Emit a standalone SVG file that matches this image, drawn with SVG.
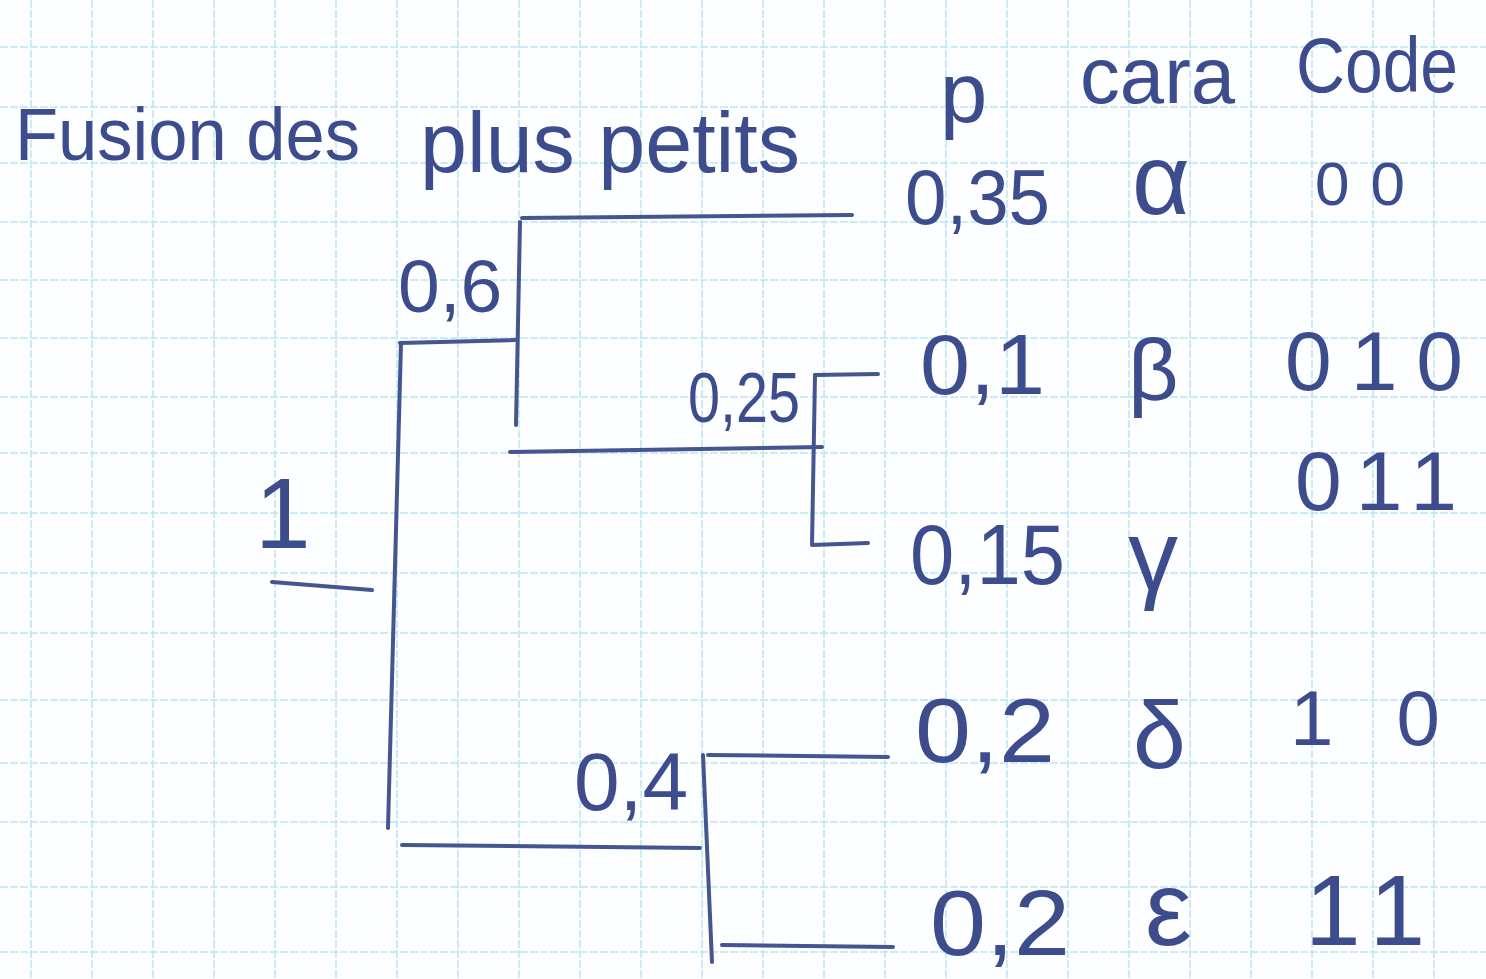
<svg xmlns="http://www.w3.org/2000/svg" width="1486" height="979" viewBox="0 0 1486 979">
<style>
.grid{stroke:#bde3f2;stroke-width:1.5;fill:none;stroke-dasharray:8 2}
.ink{fill:#3c4c8c;font-family:"Liberation Sans",Arial,sans-serif}
.ln{stroke:#45558f;stroke-width:4;fill:none;stroke-linecap:round;stroke-linejoin:round}
</style>
<rect width="1486" height="979" fill="#fdfeff"/>
<g id="grid" class="grid">
<path d="M31 0V979M92 0V979M153 0V979M214 0V979M275 0V979M336 0V979M397 0V979M458 0V979M519 0V979M580 0V979M641 0V979M702 0V979M763 0V979M824 0V979M885 0V979M946 0V979M1007 0V979M1068 0V979M1129 0V979M1190 0V979M1251 0V979M1312 0V979M1373 0V979M1434 0V979"/>
<path d="M0 47H1486M0 107H1486M0 163H1486M0 222H1486M0 280H1486M0 338H1486M0 397H1486M0 453H1486M0 513H1486M0 573H1486M0 633H1486M0 700H1486M0 763H1486M0 822H1486M0 887H1486M0 952H1486"/>
</g>
<g id="title" class="ink">
<text x="15" y="160" font-size="75" textLength="345" lengthAdjust="spacingAndGlyphs">Fusion des</text>
<text x="420" y="172" font-size="85" textLength="380" lengthAdjust="spacingAndGlyphs">plus petits</text>
</g>
<g id="headers" class="ink">
<text x="940" y="122" font-size="85">p</text>
<text x="1080" y="103" font-size="80" textLength="155" lengthAdjust="spacingAndGlyphs">cara</text>
<text x="1296" y="92" font-size="78" textLength="162" lengthAdjust="spacingAndGlyphs">Code</text>
</g>
<g id="connectors" class="ln">
<path d="M522 218L852 215"/>
<path d="M520 222L516 425"/>
<path d="M400 343L515 340"/>
<path d="M510 452L822 447"/>
<path d="M815 375L878 374"/>
<path d="M815 375L812 545L868 543"/>
<path d="M401 343L388 828"/>
<path d="M402 845L700 848"/>
<path d="M703 755L712 962"/>
<path d="M708 755L888 757"/>
<path d="M722 945L893 947"/>
<path d="M272 582L372 590"/>
</g>
<g id="node-root" class="ink"><text x="255" y="548" font-size="100">1</text></g>
<g id="node-06" class="ink"><text x="398" y="312" font-size="75">0,6</text></g>
<g id="node-025" class="ink"><text x="688" y="422" font-size="70" textLength="112" lengthAdjust="spacingAndGlyphs">0,25</text></g>
<g id="node-04" class="ink"><text x="574" y="810" font-size="82">0,4</text></g>
<g id="leaf-alpha" class="ink">
<text x="905" y="224" font-size="78" textLength="145" lengthAdjust="spacingAndGlyphs">0,35</text>
<text x="1132" y="214" font-size="100">α</text>
<text x="1315" y="205" font-size="62" textLength="90" lengthAdjust="spacing">00</text>
</g>
<g id="leaf-beta" class="ink">
<text x="920" y="394" font-size="85" textLength="125" lengthAdjust="spacingAndGlyphs">0,1</text>
<text x="1128" y="400" font-size="88">β</text>
<text x="1285" y="390" font-size="84" textLength="178" lengthAdjust="spacing">010</text>
</g>
<g id="leaf-gamma" class="ink">
<text x="1295" y="510" font-size="84" textLength="162" lengthAdjust="spacing">011</text>
<text x="910" y="584" font-size="85" textLength="155" lengthAdjust="spacingAndGlyphs">0,15</text>
<text x="1128" y="590" font-size="100">γ</text>
</g>
<g id="leaf-delta" class="ink">
<text x="915" y="762" font-size="90" textLength="140" lengthAdjust="spacingAndGlyphs">0,2</text>
<text x="1133" y="768" font-size="95">δ</text>
<text x="1290" y="745" font-size="78" textLength="150" lengthAdjust="spacing">10</text>
</g>
<g id="leaf-epsilon" class="ink">
<text x="930" y="955" font-size="92" textLength="140" lengthAdjust="spacingAndGlyphs">0,2</text>
<text x="1145" y="945" font-size="105">ε</text>
<text x="1305" y="945" font-size="100" textLength="120" lengthAdjust="spacing">11</text>
</g>
</svg>
